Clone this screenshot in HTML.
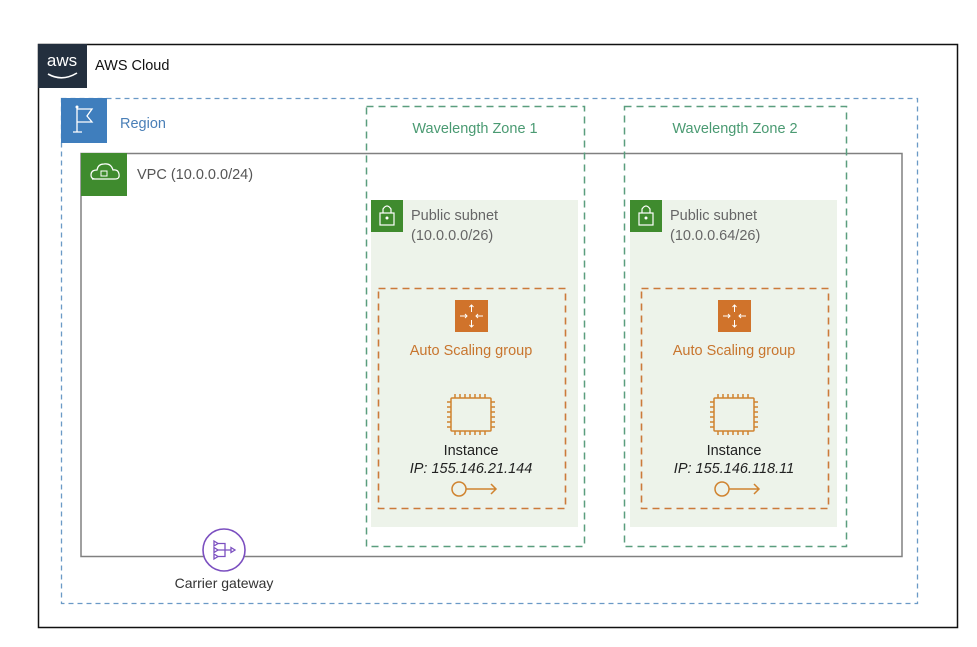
<!DOCTYPE html>
<html><head><style>body{margin:0;background:#fff}svg{display:block}text{font-family:"Liberation Sans",sans-serif}</style></head>
<body>
<svg width="977" height="647" viewBox="0 0 977 647" xmlns="http://www.w3.org/2000/svg">
<rect x="0" y="0" width="977" height="647" fill="#fff"/>
<rect x="38.5" y="44.5" width="919" height="583" fill="none" stroke="#111" stroke-width="1.5"/>
<rect x="38" y="44" width="49" height="44" fill="#232f3e"/>
<text x="62" y="66" fill="#fff" font-size="17" text-anchor="middle">aws</text>
<path d="M48 74 Q62 82 77 73" stroke="#fff" stroke-width="1.6" fill="none"/>
<text x="95" y="70" font-size="14.5" fill="#111">AWS Cloud</text>
<rect x="61.5" y="98.5" width="856" height="505" fill="none" stroke="#6a99c6" stroke-width="1.3" stroke-dasharray="5,4"/>
<rect x="61" y="98" width="46" height="45" fill="#3f7ebd"/>
<path d="M77 108 V132 M73 132 H82 M77 109 H92 L87 116 L92 122 H77" stroke="#fff" stroke-width="1.3" fill="none"/>
<circle cx="77" cy="107" r="1.5" fill="#fff"/>
<text x="120" y="128" font-size="14.5" fill="#4a7fb7">Region</text>
<rect x="81" y="153.5" width="821" height="403" fill="none" stroke="#808080" stroke-width="1.5"/>
<rect x="81" y="153" width="46" height="43" fill="#3f8b2e"/>
<path d="M92 179 H115 Q120 179 119 174 Q118 169 113 170 Q111 163 104 164 Q98 164 97 170 Q91 170 91 175 Q91 179 95 179" stroke="#fff" stroke-width="1.2" fill="none"/>
<rect x="101" y="171" width="6" height="5" fill="none" stroke="#fff" stroke-width="1"/>
<text x="137" y="179" font-size="14.5" fill="#555">VPC (10.0.0.0/24)</text>
<circle cx="224" cy="550" r="21" fill="#fff" stroke="#7b4fc0" stroke-width="1.6"/>
<g stroke="#7b4fc0" stroke-width="1.3" fill="none">
<path d="M214 541 L218 543.5 L214 546Z M214 547.5 L218 550 L214 552.5Z M214 554 L218 556.5 L214 559Z M231 547.5 L235 550 L231 552.5Z"/>
<path d="M218 543.5 H225 V556.5 H218 M218 550 H231"/>
</g>
<text x="224" y="588" font-size="14" fill="#333" text-anchor="middle">Carrier gateway</text>
<g stroke="#5a9e7e" stroke-width="1.5" stroke-dasharray="7,5" fill="none">
<rect x="366.5" y="106.5" width="218" height="440"/>
<rect x="624.5" y="106.5" width="222" height="440"/>
</g>
<text x="475" y="133" font-size="14.5" fill="#4a9a72" text-anchor="middle">Wavelength Zone 1</text>
<text x="735" y="133" font-size="14.5" fill="#4a9a72" text-anchor="middle">Wavelength Zone 2</text>
<g id="s">
<rect x="371" y="200" width="207" height="327" fill="#edf3ea"/>
<rect x="371" y="200" width="32" height="32" fill="#3f8b2e"/>
<rect x="380" y="213" width="14" height="12" fill="none" stroke="#fff" stroke-width="1.2"/>
<path d="M383 213 V209 Q387 203 391 209 V213" stroke="#fff" stroke-width="1.2" fill="none"/>
<circle cx="387" cy="218" r="1.5" fill="#fff"/>
</g>
<use href="#s" x="259"/>
<text x="411" y="220" font-size="14.5" fill="#666">Public subnet</text>
<text x="411" y="240" font-size="14.5" fill="#666">(10.0.0.0/26)</text>
<text x="670" y="220" font-size="14.5" fill="#666">Public subnet</text>
<text x="670" y="240" font-size="14.5" fill="#666">(10.0.0.64/26)</text>
<g id="a">
<rect x="378.5" y="288.5" width="187" height="220" fill="none" stroke="#cc7a3a" stroke-width="1.6" stroke-dasharray="7,5"/>
<rect x="455" y="300" width="33" height="32" fill="#d0732b"/>
<g stroke="#fff" stroke-width="1" fill="none"><path d="M471.5 305 V312 M469.5 307 L471.5 305 L473.5 307 M471.5 320 V327 M469.5 325 L471.5 327 L473.5 325 M460 316 H467 M465 314 L467 316 L465 318 M476 316 H483 M478 314 L476 316 L478 318"/></g>
<g stroke="#d0832f" stroke-width="1.5" fill="none">
<rect x="451" y="398" width="40" height="33" rx="1"/>
<path d="M455 394 V398 M460 394 V398 M465 394 V398 M470 394 V398 M475 394 V398 M480 394 V398 M485 394 V398 M455 431 V435 M460 431 V435 M465 431 V435 M470 431 V435 M475 431 V435 M480 431 V435 M485 431 V435 M447 402 H451 M447 407 H451 M447 412 H451 M447 417 H451 M447 422 H451 M447 427 H451 M491 402 H495 M491 407 H495 M491 412 H495 M491 417 H495 M491 422 H495 M491 427 H495"/>
<circle cx="459" cy="489" r="7"/>
<path d="M466 489 H496 M491 484 L496 489 L491 494"/>
</g>
</g>
<use href="#a" x="263"/>
<text x="471" y="355" font-size="14.5" fill="#c8752e" text-anchor="middle">Auto Scaling group</text>
<text x="734" y="355" font-size="14.5" fill="#c8752e" text-anchor="middle">Auto Scaling group</text>
<text x="471" y="455" font-size="14.5" fill="#222" text-anchor="middle">Instance</text>
<text x="734" y="455" font-size="14.5" fill="#222" text-anchor="middle">Instance</text>
<text x="471" y="473" font-size="14.5" fill="#222" font-style="italic" text-anchor="middle">IP: 155.146.21.144</text>
<text x="734" y="473" font-size="14.5" fill="#222" font-style="italic" text-anchor="middle">IP: 155.146.118.11</text>
</svg>
</body></html>
